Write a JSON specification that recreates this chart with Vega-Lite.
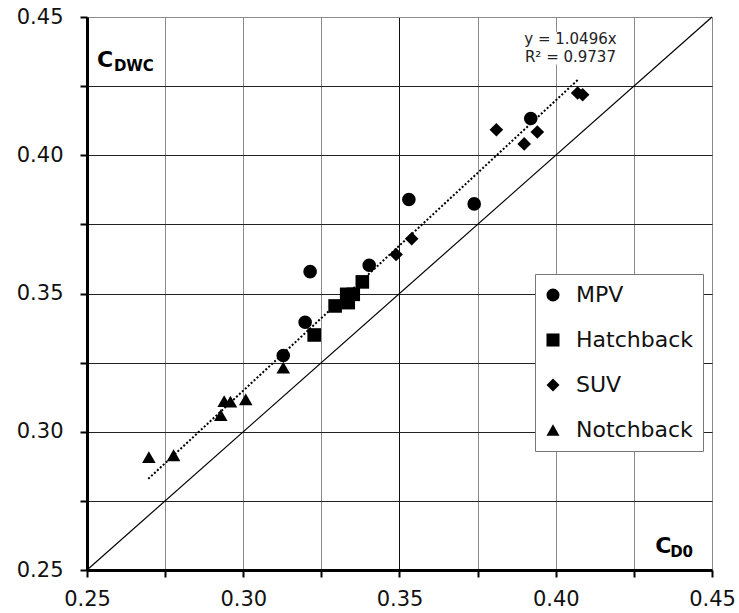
{
  "$schema": "https://vega.github.io/schema/vega-lite/v6.json",
  "width": 625,
  "height": 553,
  "autosize": {"type": "none"},
  "padding": {"left": 87, "top": 17, "right": 27, "bottom": 43},
  "background": "white",
  "config": {
    "view": {"stroke": null},
    "font": "DejaVu Sans",
    "axis": {
      "title": null,
      "domainColor": "black",
      "domainWidth": 3,
      "tickColor": "black",
      "tickWidth": 2,
      "tickSize": 7,
      "labelFont": "DejaVu Sans",
      "labelFontSize": 21,
      "labelColor": "#111111",
      "labelFlush": false,
      "labelOverlap": false,
      "grid": true,
      "gridWidth": 1
    }
  },
  "datasets": {
    "cars": [
      {"type": "MPV", "cd0": 0.3128, "cdwc": 0.3276},
      {"type": "MPV", "cd0": 0.3198, "cdwc": 0.3396},
      {"type": "MPV", "cd0": 0.3214, "cdwc": 0.3579},
      {"type": "MPV", "cd0": 0.3403, "cdwc": 0.3602},
      {"type": "MPV", "cd0": 0.3530, "cdwc": 0.3840},
      {"type": "MPV", "cd0": 0.3739, "cdwc": 0.3824},
      {"type": "MPV", "cd0": 0.3920, "cdwc": 0.4133},
      {"type": "Hatchback", "cd0": 0.3227, "cdwc": 0.3350},
      {"type": "Hatchback", "cd0": 0.3294, "cdwc": 0.3455},
      {"type": "Hatchback", "cd0": 0.3331, "cdwc": 0.3497},
      {"type": "Hatchback", "cd0": 0.3352, "cdwc": 0.3497},
      {"type": "Hatchback", "cd0": 0.3336, "cdwc": 0.3467},
      {"type": "Hatchback", "cd0": 0.3381, "cdwc": 0.3542},
      {"type": "SUV", "cd0": 0.3489, "cdwc": 0.3641},
      {"type": "SUV", "cd0": 0.3539, "cdwc": 0.3698},
      {"type": "SUV", "cd0": 0.3810, "cdwc": 0.4092},
      {"type": "SUV", "cd0": 0.3899, "cdwc": 0.4041},
      {"type": "SUV", "cd0": 0.3941, "cdwc": 0.4084},
      {"type": "SUV", "cd0": 0.4070, "cdwc": 0.4225},
      {"type": "SUV", "cd0": 0.4086, "cdwc": 0.4219},
      {"type": "Notchback", "cd0": 0.2698, "cdwc": 0.2908},
      {"type": "Notchback", "cd0": 0.2777, "cdwc": 0.2915},
      {"type": "Notchback", "cd0": 0.2928, "cdwc": 0.3060},
      {"type": "Notchback", "cd0": 0.2939, "cdwc": 0.3111},
      {"type": "Notchback", "cd0": 0.2959, "cdwc": 0.3109},
      {"type": "Notchback", "cd0": 0.3008, "cdwc": 0.3117},
      {"type": "Notchback", "cd0": 0.3128, "cdwc": 0.3232}
    ],
    "identity": [
      {"cd0": 0.25, "cdwc": 0.25},
      {"cd0": 0.45, "cdwc": 0.45}
    ],
    "trend": [
      {"cd0": 0.2696, "cdwc": 0.28297},
      {"cd0": 0.4074, "cdwc": 0.42761}
    ],
    "eqbox": [
      {"x0": 0.3885, "x1": 0.4210, "y0": 0.4328, "y1": 0.4447}
    ],
    "equation": [
      {"cd0": 0.4047, "cdwc": 0.4402, "label": "y = 1.0496x"},
      {"cd0": 0.4047, "cdwc": 0.4336, "label": "R² = 0.9737"}
    ],
    "symbols": [
      {"cd0": 0.2532, "cdwc": 0.4320, "label": "C"},
      {"cd0": 0.4318, "cdwc": 0.2561, "label": "C"}
    ],
    "subscripts": [
      {"cd0": 0.2586, "cdwc": 0.4306, "label": "DWC"},
      {"cd0": 0.4366, "cdwc": 0.2546, "label": "D0"}
    ]
  },
  "layer": [
    {
      "data": {"name": "identity"},
      "mark": {"type": "line", "color": "black", "strokeWidth": 1.2},
      "encoding": {
        "x": {
          "field": "cd0", "type": "quantitative",
          "scale": {"domain": [0.25, 0.45], "nice": false, "zero": false},
          "axis": {
            "orient": "bottom",
            "values": [0.25, 0.275, 0.3, 0.325, 0.35, 0.375, 0.4, 0.425, 0.45],
            "labelExpr": "round(datum.value * 1000) % 50 == 0 ? format(datum.value, '.2f') : ''",
            "labelPadding": 11,
            "gridColor": {"condition": {"test": "abs(datum.value - 0.35) < 0.001", "value": "#111111"}, "value": "#8a8a8a"}
          }
        },
        "y": {
          "field": "cdwc", "type": "quantitative",
          "scale": {"domain": [0.25, 0.45], "nice": false, "zero": false},
          "axis": {
            "orient": "left",
            "values": [0.25, 0.275, 0.3, 0.325, 0.35, 0.375, 0.4, 0.425, 0.45],
            "labelExpr": "round(datum.value * 1000) % 50 == 0 ? format(datum.value, '.2f') : ''",
            "labelPadding": 17,
            "labelBaseline": "middle",
            "gridColor": {"condition": {"test": "datum.value > 0.449", "value": "#8a8a8a"}, "value": "#222222"}
          }
        }
      }
    },
    {
      "data": {"name": "eqbox"},
      "mark": {"type": "rect", "fill": "white"},
      "encoding": {
        "x": {"field": "x0", "type": "quantitative"},
        "x2": {"field": "x1"},
        "y": {"field": "y0", "type": "quantitative"},
        "y2": {"field": "y1"}
      }
    },
    {
      "data": {"name": "trend"},
      "mark": {"type": "line", "color": "black", "strokeWidth": 2, "strokeDash": [2, 2]},
      "encoding": {
        "x": {"field": "cd0", "type": "quantitative"},
        "y": {"field": "cdwc", "type": "quantitative"}
      }
    },
    {
      "data": {"name": "cars"},
      "mark": {"type": "point", "filled": true, "opacity": 1, "color": "black", "size": 185},
      "encoding": {
        "x": {"field": "cd0", "type": "quantitative"},
        "y": {"field": "cdwc", "type": "quantitative"},
        "shape": {
          "field": "type", "type": "nominal",
          "scale": {
            "domain": ["MPV", "Hatchback", "SUV", "Notchback"],
            "range": ["circle", "square", "diamond", "triangle-up"]
          },
          "legend": {
            "orient": "none",
            "legendX": 448,
            "legendY": 257,
            "title": null,
            "fillColor": "white",
            "strokeColor": "#777777",
            "padding": 10,
            "symbolOffset": -3,
            "labelFont": "DejaVu Sans",
            "labelFontSize": 22,
            "labelColor": "#111111",
            "labelOffset": 12,
            "rowPadding": 23,
            "symbolSize": 170,
            "symbolFillColor": "black",
            "symbolStrokeWidth": 0
          }
        }
      }
    },
    {
      "data": {"name": "equation"},
      "mark": {"type": "text", "align": "center", "baseline": "alphabetic", "fontSize": 15, "font": "DejaVu Sans", "color": "#222222"},
      "encoding": {
        "x": {"field": "cd0", "type": "quantitative"},
        "y": {"field": "cdwc", "type": "quantitative"},
        "text": {"field": "label"}
      }
    },
    {
      "data": {"name": "symbols"},
      "mark": {"type": "text", "align": "left", "baseline": "alphabetic", "fontSize": 22, "fontWeight": "bold", "font": "DejaVu Sans", "color": "black"},
      "encoding": {
        "x": {"field": "cd0", "type": "quantitative"},
        "y": {"field": "cdwc", "type": "quantitative"},
        "text": {"field": "label"}
      }
    },
    {
      "data": {"name": "subscripts"},
      "mark": {"type": "text", "align": "left", "baseline": "alphabetic", "fontSize": 15, "fontWeight": "bold", "font": "DejaVu Sans", "color": "black"},
      "encoding": {
        "x": {"field": "cd0", "type": "quantitative"},
        "y": {"field": "cdwc", "type": "quantitative"},
        "text": {"field": "label"}
      }
    }
  ]
}
